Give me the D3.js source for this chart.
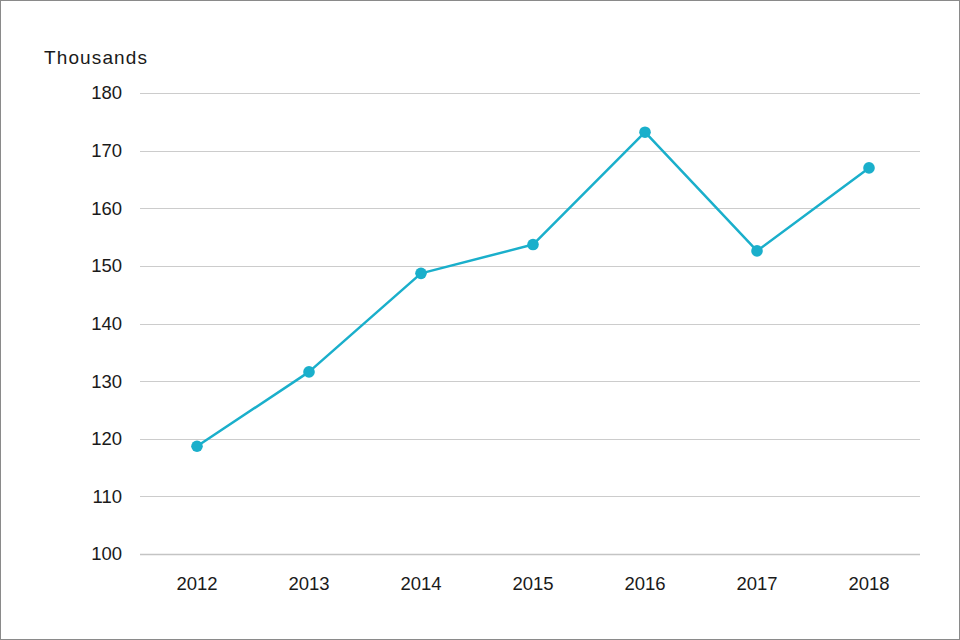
<!DOCTYPE html>
<html>
<head>
<meta charset="utf-8">
<script src="https://cdn.jsdelivr.net/npm/d3@7"></script>
<style>
  html, body { margin: 0; padding: 0; background: #fff; }
  svg { display: block; }
  text { font-family: "Liberation Sans", Arial, Helvetica, sans-serif; fill: #1a1a1a; }
</style>
</head>
<body>
<svg id="chart" width="960" height="640"></svg>
<script>
const years = ["2012", "2013", "2014", "2015", "2016", "2017", "2018"];
const values = [118.7, 131.6, 148.7, 153.7, 173.2, 152.6, 167.0];
const yTicks = [100, 110, 120, 130, 140, 150, 160, 170, 180];
const unitLabel = "Thousands";

const svg = d3.select("#chart");
const W = 960, H = 640;

svg.append("rect")
  .attr("x", 0.5).attr("y", 0.5)
  .attr("width", W - 1).attr("height", H - 1)
  .attr("fill", "#fff").attr("stroke", "#8a8a8a").attr("stroke-width", 1);

const gridLeft = 140, gridRight = 920;
const y = d3.scaleLinear().domain([100, 180]).range([554, 93]);
const x = d3.scalePoint().domain(years).range([197, 869]);

// gridlines
svg.append("g").selectAll("line").data(yTicks).join("line")
  .attr("x1", gridLeft).attr("x2", gridRight)
  .attr("y1", d => Math.round(y(d)) + 0.5).attr("y2", d => Math.round(y(d)) + 0.5)
  .attr("stroke", d => d === 100 ? "#c4c4c4" : "#cccccc")
  .attr("stroke-width", d => d === 100 ? 1.5 : 1);

// y tick labels
svg.append("g").selectAll("text").data(yTicks).join("text")
  .attr("x", 122).attr("y", d => y(d))
  .attr("dy", "0.35em")
  .attr("text-anchor", "end")
  .attr("font-size", 18.5)
  .text(d => d);

// x labels
svg.append("g").selectAll("text").data(years).join("text")
  .attr("x", d => x(d)).attr("y", 590)
  .attr("text-anchor", "middle")
  .attr("font-size", 18.5)
  .text(d => d);

// unit label
svg.append("text")
  .attr("x", 44).attr("y", 64)
  .attr("font-size", 19)
  .attr("textLength", 103)
  .attr("lengthAdjust", "spacing")
  .text(unitLabel);

const data = years.map((yr, i) => ({ yr, v: values[i] }));
const color = "#1aafcb";

svg.append("path")
  .datum(data)
  .attr("fill", "none")
  .attr("stroke", color)
  .attr("stroke-width", 2.5)
  .attr("stroke-linejoin", "round")
  .attr("d", d3.line().x(d => x(d.yr)).y(d => y(d.v)));

svg.append("g").selectAll("circle").data(data).join("circle")
  .attr("cx", d => x(d.yr)).attr("cy", d => y(d.v))
  .attr("r", 5.8)
  .attr("fill", color);
</script>
</body>
</html>
